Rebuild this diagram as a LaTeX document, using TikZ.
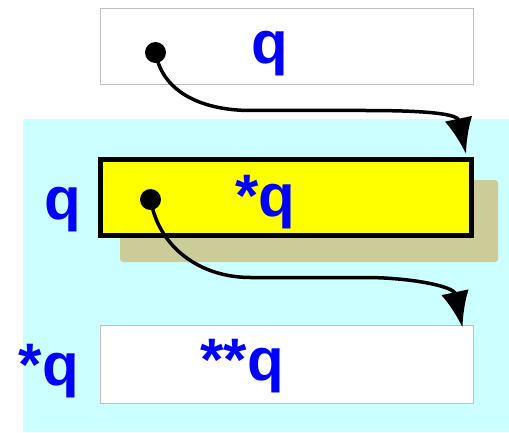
\documentclass[tikz,border=0pt]{standalone}
\usepackage{fontspec}
\setmainfont{Liberation Sans}
\usetikzlibrary{positioning,arrows.meta,calc}
\definecolor{cyanbg}{RGB}{204,255,255}
\definecolor{shadowc}{RGB}{204,204,153}
\definecolor{cellgray}{RGB}{192,192,192}
\definecolor{hotyellow}{RGB}{255,255,0}
\begin{document}
\begin{tikzpicture}[
    x=1pt, y=1pt,
    cell/.style={draw=cellgray, line width=1pt, fill=white, minimum width=373pt, minimum height=76pt, inner sep=0pt},
    cellhot/.style={draw=black, line width=5pt, fill=hotyellow, minimum width=371pt, minimum height=76pt, inner sep=0pt},
    lbl/.style={text=blue, font=\fontsize{60}{60}\selectfont\bfseries, inner sep=0pt, anchor=base},
    dot/.style={circle, fill=black, minimum size=21pt, inner sep=0pt},
    ptr/.style={line width=3.5pt, -{Latex[length=36pt,width=28pt]}}
]
\useasboundingbox (0,0) rectangle (509,432);
% memory area and shadow
\fill[cyanbg] (23,0) rectangle (509,313);
\node[cell] (cellq) at (286.5,385) {};
\fill[shadowc, rounded corners=3pt] (120,170) rectangle (498,252);
\node[cellhot] (cellpq) at (286,234.5) {};
\node[cell, minimum height=78pt] (cellppq) at (286.5,68) {};

% texts
\node[lbl] (tq) at (270,368) {q};
\node[lbl] (tpq) at (265,216) {*q};
\node[lbl] (tppq) at (242,52) {**q};
\node[lbl] (lq) at (63,213) {q};
\node[lbl] (lpq) at (49,47) {*q};

% pointers
\node[dot] (d1) at (155.5,379.5) {};
\node[dot] (d2) at (150.5,232.5) {};
\coordinate (tip1) at ($(cellpq.north east)+(-8,3)$);
\coordinate (tip2) at ($(cellppq.north east)+(-11,-3)$);
\draw[ptr] (d1.center) to[out=-80,in=180] ++(95,-58) -- ++(115,0) to[out=0,in=102] (tip1);
\draw[ptr] (d2.center) to[out=-80,in=180] ++(100,-78) -- ++(115,0) to[out=0,in=102] (tip2);
\end{tikzpicture}
\end{document}
